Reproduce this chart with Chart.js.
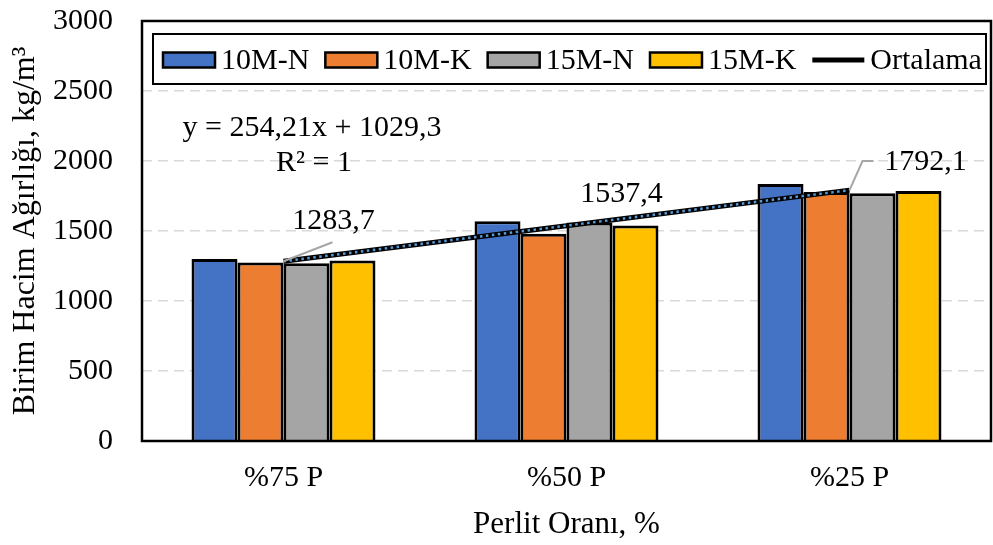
<!DOCTYPE html>
<html>
<head>
<meta charset="utf-8">
<script src="https://cdn.jsdelivr.net/npm/chart.js@4.4.1/dist/chart.umd.min.js"></script>
<style>
  html, body { margin: 0; padding: 0; background: #fff; }
  .chart-box { width: 993px; height: 545px; position: relative; }
</style>
</head>
<body>
<div class="chart-box"><canvas id="densityChart"></canvas></div>
<script>
const categories = ["%75 P", "%50 P", "%25 P"];
const seriesNames = ["10M-N", "10M-K", "15M-N", "15M-K"];
const val10MN = [1300, 1570, 1835];
const val10MK = [1275, 1480, 1779];
const val15MN = [1270, 1560, 1770];
const val15MK = [1290, 1540, 1785];
const ortalama = [1283.7, 1537.4, 1792.1];
const trendSlope = 254.21;
const trendIntercept = 1029.3;
const yTicks = [0, 500, 1000, 1500, 2000, 2500, 3000];

const FONT = '"Liberation Serif", "Times New Roman", serif';
const barColors = ["#4472C4", "#ED7D31", "#A5A5A5", "#FFC000"];
const barValues = [val10MN, val10MK, val15MN, val15MK];

// trendline from the equation shown in the chart
const trendValues = categories.map((c, i) => trendSlope * (i + 1) + trendIntercept);

function fmt(v) {
  return v.toFixed(1).replace('.', ',');
}

// label offsets from each Ortalama point, plus leader line paths
const labelOffsets = [[50, -40], [55, -32], [76, -28]];
const leaders = [
  [[0, 0], [49, -19]],
  null,
  [[0, 0], [13, -29], [24, -29]]
];

const notesPlugin = {
  id: 'notes',
  afterDatasetsDraw(chart) {
    const ctx = chart.ctx;
    const meta = chart.getDatasetMeta(4);
    ctx.save();
    ctx.font = '30px ' + FONT;
    ctx.fillStyle = '#000';
    ctx.textAlign = 'center';
    ctx.textBaseline = 'middle';
    meta.data.forEach((pt, i) => {
      const lead = leaders[i];
      if (lead) {
        ctx.beginPath();
        ctx.strokeStyle = '#a6a6a6';
        ctx.lineWidth = 2;
        lead.forEach((p, k) => {
          if (k === 0) ctx.moveTo(pt.x + p[0], pt.y + p[1]);
          else ctx.lineTo(pt.x + p[0], pt.y + p[1]);
        });
        ctx.stroke();
      }
      ctx.fillText(fmt(ortalama[i]), pt.x + labelOffsets[i][0], pt.y + labelOffsets[i][1]);
    });
    ctx.restore();
  },
  afterDraw(chart) {
    const ctx = chart.ctx;
    const a = chart.chartArea;
    ctx.save();

    // plot frame
    ctx.strokeStyle = '#000';
    ctx.lineWidth = 2.5;
    ctx.strokeRect(a.left, a.top, a.right - a.left, a.bottom - a.top);

    // equation
    ctx.font = '30px ' + FONT;
    ctx.fillStyle = '#000';
    ctx.textAlign = 'center';
    ctx.textBaseline = 'middle';
    ctx.fillText('y = 254,21x + 1029,3', 312, 128);
    ctx.fillText('R² = 1', 314, 163);

    // legend
    ctx.fillStyle = '#fff';
    ctx.fillRect(153, 34, 833, 50);
    ctx.strokeStyle = '#000';
    ctx.lineWidth = 2;
    ctx.strokeRect(153, 34, 833, 50);

    let x = 163;
    const cy = 60;
    ctx.textAlign = 'left';
    const items = seriesNames.map((n, i) => ({ name: n, color: barColors[i] }));
    items.push({ name: 'Ortalama', line: true });
    items.forEach(it => {
      if (it.line) {
        ctx.beginPath();
        ctx.strokeStyle = '#000';
        ctx.lineWidth = 5;
        ctx.moveTo(x, cy);
        ctx.lineTo(x + 52, cy);
        ctx.stroke();
      } else {
        ctx.fillStyle = it.color;
        ctx.fillRect(x, cy - 7.5, 52, 15);
        ctx.strokeStyle = '#000';
        ctx.lineWidth = 2.5;
        ctx.strokeRect(x, cy - 7.5, 52, 15);
      }
      x += 58;
      ctx.fillStyle = '#000';
      ctx.fillText(it.name, x, cy + 1);
      x += ctx.measureText(it.name).width + 16;
    });
    ctx.restore();
  }
};

const datasets = barValues.map((vals, i) => ({
  type: 'bar',
  label: seriesNames[i],
  data: vals,
  backgroundColor: barColors[i],
  borderColor: '#000',
  borderWidth: 3,
  categoryPercentage: 0.65,
  barPercentage: 1.0,
  order: 3
}));

datasets.push({
  type: 'line',
  label: 'Ortalama',
  data: ortalama,
  borderColor: '#000',
  borderWidth: 5,
  pointRadius: 0,
  tension: 0,
  order: 1
});

datasets.push({
  type: 'line',
  label: 'Trend',
  data: trendValues,
  borderColor: '#5B9BD5',
  borderWidth: 2.5,
  borderDash: [2.5, 3.5],
  pointRadius: 0,
  tension: 0,
  order: 0
});

const ctx = document.getElementById('densityChart');

new Chart(ctx, {
  type: 'bar',
  data: {
    labels: categories,
    datasets: datasets
  },
  options: {
    responsive: true,
    maintainAspectRatio: false,
    animation: false,
    layout: {
      padding: { top: 21, right: 2, bottom: 0, left: 0 }
    },
    plugins: {
      legend: { display: false },
      tooltip: { enabled: false }
    },
    scales: {
      x: {
        grid: { display: false },
        border: { display: false },
        ticks: {
          color: '#000',
          font: { family: FONT, size: 30 },
          padding: 11
        },
        title: {
          display: true,
          text: 'Perlit Oranı, %',
          color: '#000',
          font: { family: FONT, size: 31 },
          padding: { top: 0, bottom: 2 }
        },
        afterFit: axis => {
          axis.height = 104;
          axis.paddingLeft = 0;
          axis.paddingRight = 0;
        }
      },
      y: {
        min: 0,
        max: 3000,
        afterBuildTicks: axis => {
          axis.ticks = yTicks.map(v => ({ value: v }));
        },
        grid: {
          color: '#d9d9d9',
          lineWidth: 1.5,
          drawTicks: false
        },
        border: { display: false, dash: [10, 6] },
        ticks: {
          color: '#000',
          font: { family: FONT, size: 30 },
          padding: 29,
          callback: v => String(v)
        },
        title: {
          display: true,
          text: 'Birim Hacim Ağırlığı, kg/m³',
          color: '#000',
          font: { family: FONT, size: 32 },
          padding: { top: 6, bottom: 0 }
        },
        afterFit: axis => {
          axis.width = 142;
          axis.paddingTop = 0;
          axis.paddingBottom = 0;
        }
      }
    }
  },
  plugins: [notesPlugin]
});
</script>
</body>
</html>
